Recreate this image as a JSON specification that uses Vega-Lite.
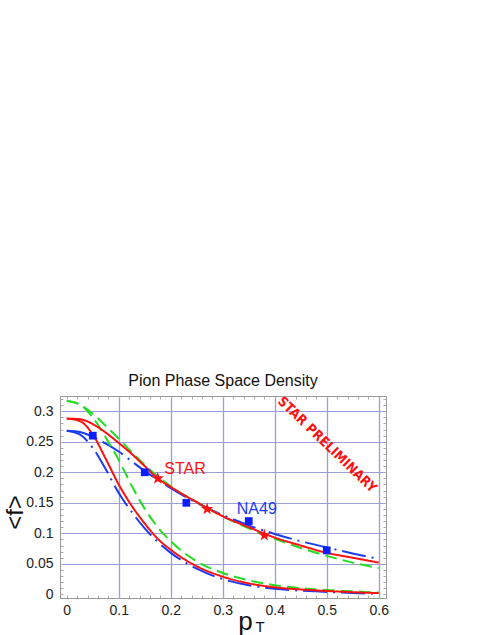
{
  "$schema": "https://vega.github.io/schema/vega-lite/v6.json",
  "width": 326,
  "height": 202,
  "autosize": {"type": "none"},
  "padding": {"left": 60, "top": 396, "right": 105, "bottom": 37},
  "background": "white",
  "title": {"text": "Pion Phase Space Density", "fontSize": 16, "font": "Liberation Sans", "fontWeight": "normal", "color": "#111111", "offset": 3, "anchor": "middle"},
  "config": {
    "view": {"stroke": "#999999", "strokeWidth": 1},
    "axis": {"domain": false, "labelFont": "Liberation Sans", "titleFont": "Liberation Sans", "labelColor": "#222222", "titleColor": "#111111", "titleFontWeight": "normal", "labelOverlap": false, "labelBound": false, "labelFlush": false}
  },
  "datasets": {
    "curves": [
      {"s": "blue_up", "pt": 0, "f": 0.268}, {"s": "blue_up", "pt": 0.025, "f": 0.266}, {"s": "blue_up", "pt": 0.05, "f": 0.258}, {"s": "blue_up", "pt": 0.075, "f": 0.247}, {"s": "blue_up", "pt": 0.1, "f": 0.234}, {"s": "blue_up", "pt": 0.125, "f": 0.218}, {"s": "blue_up", "pt": 0.15, "f": 0.202}, {"s": "blue_up", "pt": 0.175, "f": 0.188}, {"s": "blue_up", "pt": 0.2, "f": 0.174}, {"s": "blue_up", "pt": 0.25, "f": 0.15}, {"s": "blue_up", "pt": 0.3, "f": 0.13}, {"s": "blue_up", "pt": 0.35, "f": 0.113}, {"s": "blue_up", "pt": 0.4, "f": 0.099}, {"s": "blue_up", "pt": 0.45, "f": 0.087}, {"s": "blue_up", "pt": 0.5, "f": 0.077}, {"s": "blue_up", "pt": 0.55, "f": 0.067}, {"s": "blue_up", "pt": 0.6, "f": 0.058},
      {"s": "blue_lo", "pt": 0, "f": 0.268}, {"s": "blue_lo", "pt": 0.025, "f": 0.262}, {"s": "blue_lo", "pt": 0.05, "f": 0.24}, {"s": "blue_lo", "pt": 0.075, "f": 0.205}, {"s": "blue_lo", "pt": 0.1, "f": 0.166}, {"s": "blue_lo", "pt": 0.125, "f": 0.135}, {"s": "blue_lo", "pt": 0.15, "f": 0.108}, {"s": "blue_lo", "pt": 0.175, "f": 0.086}, {"s": "blue_lo", "pt": 0.2, "f": 0.068}, {"s": "blue_lo", "pt": 0.25, "f": 0.042}, {"s": "blue_lo", "pt": 0.3, "f": 0.025}, {"s": "blue_lo", "pt": 0.35, "f": 0.015}, {"s": "blue_lo", "pt": 0.4, "f": 0.009}, {"s": "blue_lo", "pt": 0.45, "f": 0.006}, {"s": "blue_lo", "pt": 0.5, "f": 0.004}, {"s": "blue_lo", "pt": 0.55, "f": 0.002}, {"s": "blue_lo", "pt": 0.6, "f": 0.001},
      {"s": "green_up", "pt": 0, "f": 0.317}, {"s": "green_up", "pt": 0.025, "f": 0.311}, {"s": "green_up", "pt": 0.05, "f": 0.296}, {"s": "green_up", "pt": 0.075, "f": 0.276}, {"s": "green_up", "pt": 0.1, "f": 0.255}, {"s": "green_up", "pt": 0.125, "f": 0.233}, {"s": "green_up", "pt": 0.15, "f": 0.212}, {"s": "green_up", "pt": 0.175, "f": 0.193}, {"s": "green_up", "pt": 0.2, "f": 0.177}, {"s": "green_up", "pt": 0.25, "f": 0.151}, {"s": "green_up", "pt": 0.3, "f": 0.128}, {"s": "green_up", "pt": 0.35, "f": 0.108}, {"s": "green_up", "pt": 0.4, "f": 0.091}, {"s": "green_up", "pt": 0.45, "f": 0.076}, {"s": "green_up", "pt": 0.5, "f": 0.063}, {"s": "green_up", "pt": 0.55, "f": 0.052}, {"s": "green_up", "pt": 0.6, "f": 0.043},
      {"s": "green_lo", "pt": 0, "f": 0.317}, {"s": "green_lo", "pt": 0.025, "f": 0.311}, {"s": "green_lo", "pt": 0.05, "f": 0.29}, {"s": "green_lo", "pt": 0.075, "f": 0.257}, {"s": "green_lo", "pt": 0.1, "f": 0.22}, {"s": "green_lo", "pt": 0.125, "f": 0.178}, {"s": "green_lo", "pt": 0.15, "f": 0.14}, {"s": "green_lo", "pt": 0.175, "f": 0.11}, {"s": "green_lo", "pt": 0.2, "f": 0.087}, {"s": "green_lo", "pt": 0.25, "f": 0.054}, {"s": "green_lo", "pt": 0.3, "f": 0.035}, {"s": "green_lo", "pt": 0.35, "f": 0.023}, {"s": "green_lo", "pt": 0.4, "f": 0.015}, {"s": "green_lo", "pt": 0.45, "f": 0.01}, {"s": "green_lo", "pt": 0.5, "f": 0.007}, {"s": "green_lo", "pt": 0.55, "f": 0.005}, {"s": "green_lo", "pt": 0.6, "f": 0.003},
      {"s": "red_up", "pt": 0, "f": 0.288}, {"s": "red_up", "pt": 0.025, "f": 0.287}, {"s": "red_up", "pt": 0.05, "f": 0.279}, {"s": "red_up", "pt": 0.075, "f": 0.265}, {"s": "red_up", "pt": 0.1, "f": 0.248}, {"s": "red_up", "pt": 0.125, "f": 0.23}, {"s": "red_up", "pt": 0.15, "f": 0.21}, {"s": "red_up", "pt": 0.175, "f": 0.19}, {"s": "red_up", "pt": 0.2, "f": 0.176}, {"s": "red_up", "pt": 0.25, "f": 0.151}, {"s": "red_up", "pt": 0.3, "f": 0.128}, {"s": "red_up", "pt": 0.35, "f": 0.11}, {"s": "red_up", "pt": 0.4, "f": 0.093}, {"s": "red_up", "pt": 0.45, "f": 0.08}, {"s": "red_up", "pt": 0.5, "f": 0.068}, {"s": "red_up", "pt": 0.55, "f": 0.06}, {"s": "red_up", "pt": 0.6, "f": 0.052},
      {"s": "red_lo", "pt": 0, "f": 0.288}, {"s": "red_lo", "pt": 0.025, "f": 0.284}, {"s": "red_lo", "pt": 0.05, "f": 0.262}, {"s": "red_lo", "pt": 0.075, "f": 0.222}, {"s": "red_lo", "pt": 0.1, "f": 0.18}, {"s": "red_lo", "pt": 0.125, "f": 0.145}, {"s": "red_lo", "pt": 0.15, "f": 0.116}, {"s": "red_lo", "pt": 0.175, "f": 0.091}, {"s": "red_lo", "pt": 0.2, "f": 0.073}, {"s": "red_lo", "pt": 0.25, "f": 0.046}, {"s": "red_lo", "pt": 0.3, "f": 0.029}, {"s": "red_lo", "pt": 0.35, "f": 0.018}, {"s": "red_lo", "pt": 0.4, "f": 0.0115}, {"s": "red_lo", "pt": 0.45, "f": 0.008}, {"s": "red_lo", "pt": 0.5, "f": 0.0055}, {"s": "red_lo", "pt": 0.55, "f": 0.0035}, {"s": "red_lo", "pt": 0.6, "f": 0.002}
    ],
    "na49": [
      {"pt": 0.05, "f": 0.26}, {"pt": 0.15, "f": 0.2}, {"pt": 0.23, "f": 0.15}, {"pt": 0.35, "f": 0.12}, {"pt": 0.5, "f": 0.072}
    ],
    "starpts": [
      {"pt": 0.175, "f": 0.19}, {"pt": 0.27, "f": 0.14}, {"pt": 0.38, "f": 0.097}
    ]
  },
  "resolve": {"axis": {"x": "independent", "y": "independent"}},
  "layer": [
    {
      "data": {"name": "curves"},
      "mark": {"type": "line", "strokeWidth": 2, "interpolate": "monotone"},
      "encoding": {
        "x": {
          "field": "pt", "type": "quantitative",
          "scale": {"domain": [-0.013, 0.614], "nice": false, "zero": false},
          "axis": {
            "orient": "bottom",
            "values": [0, 0.02, 0.04, 0.06, 0.08, 0.1, 0.12, 0.14, 0.16, 0.18, 0.2, 0.22, 0.24, 0.26, 0.28, 0.3, 0.32, 0.34, 0.36, 0.38, 0.4, 0.42, 0.44, 0.46, 0.48, 0.5, 0.52, 0.54, 0.56, 0.58, 0.6],
            "labelExpr": "abs(datum.value*10 - round(datum.value*10)) < 0.001 ? format(datum.value, '.2~f') : ''",
            "labelFontSize": 14, "labelPadding": 8,
            "ticks": true, "tickSize": -3, "tickColor": "#aaaaaa",
            "grid": true,
            "gridColor": "#9d9dd8", "gridWidth": 1.3,
            "gridOpacity": {"condition": {"test": "datum.value < 0.05 || abs(datum.value*10 - round(datum.value*10)) > 0.001", "value": 0}, "value": 1},
            "title": "p", "titleFontSize": 26, "titleX": 185, "titleY": 31, "titleBaseline": "alphabetic"
          }
        },
        "y": {
          "field": "f", "type": "quantitative",
          "scale": {"domain": [-0.006, 0.325], "nice": false, "zero": false},
          "axis": {
            "orient": "left",
            "values": [0, 0.01, 0.02, 0.03, 0.04, 0.05, 0.06, 0.07, 0.08, 0.09, 0.1, 0.11, 0.12, 0.13, 0.14, 0.15, 0.16, 0.17, 0.18, 0.19, 0.2, 0.21, 0.22, 0.23, 0.24, 0.25, 0.26, 0.27, 0.28, 0.29, 0.3, 0.31, 0.32],
            "labelExpr": "abs(datum.value*20 - round(datum.value*20)) < 0.001 ? format(datum.value, '.2~f') : ''",
            "labelFontSize": 14, "labelPadding": 10,
            "ticks": true, "tickSize": -3, "tickColor": "#aaaaaa",
            "grid": true,
            "gridColor": "#9d9dd8", "gridWidth": 1.1,
            "gridOpacity": {"condition": {"test": "datum.value < 0.02 || abs(datum.value*20 - round(datum.value*20)) > 0.001", "value": 0}, "value": 1},
            "title": "<f>", "titleFontSize": 24, "titleX": -38, "titleY": 116, "titleAngle": -90, "titleBaseline": "alphabetic"
          }
        },
        "color": {
          "field": "s", "type": "nominal", "legend": null,
          "scale": {"domain": ["blue_up", "blue_lo", "green_up", "green_lo", "red_up", "red_lo"], "range": ["#1a3cf0", "#1a3cf0", "#22dd22", "#22dd22", "#ff1010", "#ff1010"]}
        },
        "strokeDash": {
          "field": "s", "type": "nominal", "legend": null,
          "scale": {"domain": ["blue_up", "blue_lo", "green_up", "green_lo", "red_up", "red_lo"], "range": [[24, 6, 2, 6], [24, 6, 2, 6], [12, 6], [12, 6], [1, 0], [1, 0]]}
        }
      }
    },
    {
      "data": {"name": "na49"},
      "mark": {"type": "square", "size": 60, "color": "#0a1eff", "opacity": 1, "filled": true},
      "encoding": {
        "x": {
          "field": "pt", "type": "quantitative",
          "axis": {
            "orient": "top", "labels": false, "grid": false, "title": null,
            "values": [0, 0.02, 0.04, 0.06, 0.08, 0.1, 0.12, 0.14, 0.16, 0.18, 0.2, 0.22, 0.24, 0.26, 0.28, 0.3, 0.32, 0.34, 0.36, 0.38, 0.4, 0.42, 0.44, 0.46, 0.48, 0.5, 0.52, 0.54, 0.56, 0.58, 0.6],
            "ticks": true, "tickSize": -3, "tickColor": "#aaaaaa"
          }
        },
        "y": {
          "field": "f", "type": "quantitative",
          "axis": {
            "orient": "right", "labels": false, "grid": false, "title": null,
            "values": [0, 0.01, 0.02, 0.03, 0.04, 0.05, 0.06, 0.07, 0.08, 0.09, 0.1, 0.11, 0.12, 0.13, 0.14, 0.15, 0.16, 0.17, 0.18, 0.19, 0.2, 0.21, 0.22, 0.23, 0.24, 0.25, 0.26, 0.27, 0.28, 0.29, 0.3, 0.31, 0.32],
            "ticks": true, "tickSize": -3, "tickColor": "#aaaaaa"
          }
        }
      }
    },
    {
      "data": {"name": "starpts"},
      "mark": {"type": "point", "shape": "M0,-1L0.2245,-0.309L0.951,-0.309L0.363,0.118L0.588,0.809L0,0.382L-0.588,0.809L-0.363,0.118L-0.951,-0.309L-0.2245,-0.309Z", "size": 170, "color": "#ff1010", "filled": true, "opacity": 1},
      "encoding": {
        "x": {"field": "pt", "type": "quantitative", "axis": null},
        "y": {"field": "f", "type": "quantitative", "axis": null}
      }
    },
    {
      "data": {"values": [{"pt": 0.1877, "f": 0.1967, "label": "STAR"}]},
      "mark": {"type": "text", "align": "left", "baseline": "alphabetic", "fontSize": 16, "font": "Liberation Sans", "color": "#ff1010"},
      "encoding": {
        "x": {"field": "pt", "type": "quantitative", "axis": null},
        "y": {"field": "f", "type": "quantitative", "axis": null},
        "text": {"field": "label"}
      }
    },
    {
      "data": {"values": [{"pt": 0.327, "f": 0.1316, "label": "NA49"}]},
      "mark": {"type": "text", "align": "left", "baseline": "alphabetic", "fontSize": 16, "font": "Liberation Sans", "color": "#1a3cf0"},
      "encoding": {
        "x": {"field": "pt", "type": "quantitative", "axis": null},
        "y": {"field": "f", "type": "quantitative", "axis": null},
        "text": {"field": "label"}
      }
    },
    {
      "data": {"values": [{"pt": 0.5006, "f": 0.2448, "label": "STAR PRELIMINARY"}]},
      "mark": {"type": "text", "align": "center", "baseline": "middle", "fontSize": 13.5, "font": "Liberation Sans Narrow, DejaVu Sans Condensed, Liberation Sans", "fontWeight": "bold", "angle": 44, "color": "#ff1010"},
      "encoding": {
        "x": {"field": "pt", "type": "quantitative", "axis": null},
        "y": {"field": "f", "type": "quantitative", "axis": null},
        "text": {"field": "label"}
      }
    },
    {
      "data": {"values": [{"pt": 0.372, "f": -0.0618, "label": "T"}]},
      "mark": {"type": "text", "align": "center", "baseline": "alphabetic", "fontSize": 15, "font": "Liberation Sans", "color": "#111111"},
      "encoding": {
        "x": {"field": "pt", "type": "quantitative", "axis": null},
        "y": {"field": "f", "type": "quantitative", "axis": null},
        "text": {"field": "label"}
      }
    }
  ]
}
